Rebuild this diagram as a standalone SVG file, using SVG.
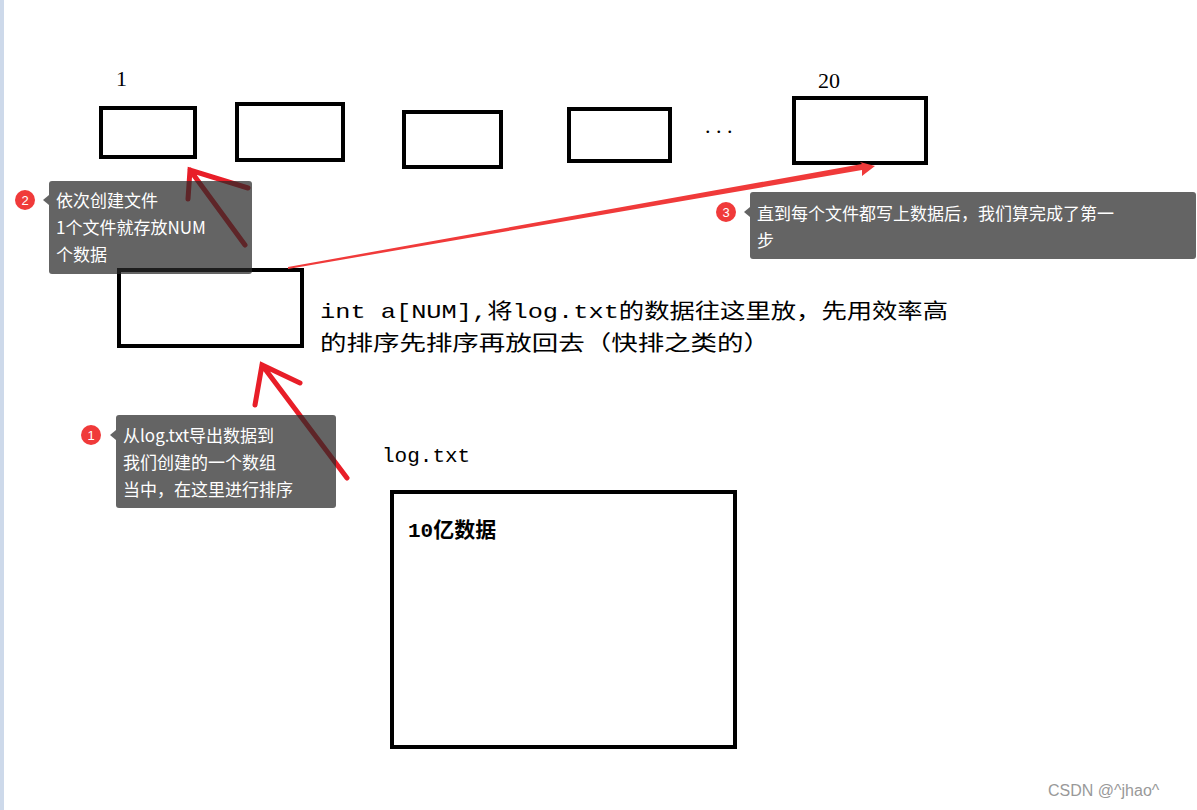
<svg xmlns="http://www.w3.org/2000/svg" width="1197" height="810" viewBox="0 0 1197 810">
<style>
.box{fill:#fff;stroke:#000;stroke-width:4}
.t{font-family:"Liberation Mono","Noto Sans CJK SC",monospace;font-size:21px;fill:#000}
.s{font-family:"Liberation Serif","Noto Sans CJK SC",serif;font-size:22px;fill:#000}
.c{fill:#282828;fill-opacity:0.72}
.ct{font-family:"Noto Sans CJK SC","Noto Sans",sans-serif;font-size:17px;fill:#fff}
.n{fill:#f03a3a}
.nt{font-family:"Liberation Sans",sans-serif;font-size:13px;fill:#fff;text-anchor:middle}
.hand{stroke:#e81e28;stroke-width:5;stroke-linecap:round;fill:none}
</style>
<rect width="1197" height="810" fill="#fff"/>
<rect x="0" y="0" width="4" height="810" fill="#cdd9ea"/>
<g id="file1"><rect class="box" x="101" y="108" width="94" height="49"/><text class="s" x="116" y="86">1</text></g>
<g id="file2"><rect class="box" x="237" y="104" width="106" height="56"/></g>
<g id="file3"><rect class="box" x="404" y="112" width="97" height="55"/></g>
<g id="file4"><rect class="box" x="569" y="109" width="101" height="52"/></g>
<text class="s" x="705" y="133">. . .</text>
<g id="file20"><rect class="box" x="794" y="98" width="132" height="65"/><text class="s" x="818" y="88">20</text></g>
<g id="array"><rect class="box" x="119" y="270" width="183" height="76"/></g>
<text class="t" x="320" y="318" textLength="628" lengthAdjust="spacingAndGlyphs">int a[NUM],将log.txt的数据往这里放，先用效率高</text>
<text class="t" x="320" y="350" textLength="450" lengthAdjust="spacingAndGlyphs">的排序先排序再放回去（快排之类的）</text>
<g id="logfile"><rect class="box" x="392" y="492" width="343" height="255"/>
<text class="t" x="382" y="462">log.txt</text>
<text class="t" x="408" y="537" font-weight="bold">10亿数据</text></g>
<g id="connectors">
<path class="hand" d="M248,188 L190,170 L188,199 M190,170 L245,245"/>
<path class="hand" d="M300,383 L262,365 L255,405 M262,365 L347,478"/>
<polygon fill="#f03a3a" points="288,267 862,164 860,162 875,166 862,176 862,170 288,269"/>
</g>
<g id="note2">
<rect class="c" x="49" y="181" width="203" height="93" rx="3"/>
<polygon class="c" points="49,195 43,200 49,205"/>
<circle class="n" cx="25" cy="200" r="10"/><text class="nt" x="25" y="205">2</text>
<text class="ct" x="56" y="207">依次创建文件</text>
<text class="ct" x="56" y="234">1个文件就存放NUM</text>
<text class="ct" x="56" y="261">个数据</text>
</g>
<g id="note1">
<rect class="c" x="116" y="415" width="220" height="93" rx="3"/>
<polygon class="c" points="116,430 110,435 116,440"/>
<circle class="n" cx="91" cy="435" r="10"/><text class="nt" x="91" y="440">1</text>
<text class="ct" x="123" y="442">从log.txt导出数据到</text>
<text class="ct" x="123" y="469">我们创建的一个数组</text>
<text class="ct" x="123" y="496">当中，在这里进行排序</text>
</g>
<g id="note3">
<rect class="c" x="750" y="192" width="446" height="67" rx="3"/>
<polygon class="c" points="750,207 744,212 750,217"/>
<circle class="n" cx="726" cy="212" r="10"/><text class="nt" x="726" y="217">3</text>
<text class="ct" x="757" y="220">直到每个文件都写上数据后，我们算完成了第一</text>
<text class="ct" x="757" y="247">步</text>
</g>
<text x="1048" y="796" font-family="Liberation Sans,sans-serif" font-size="16" fill="#999">CSDN @^jhao^</text>
</svg>
